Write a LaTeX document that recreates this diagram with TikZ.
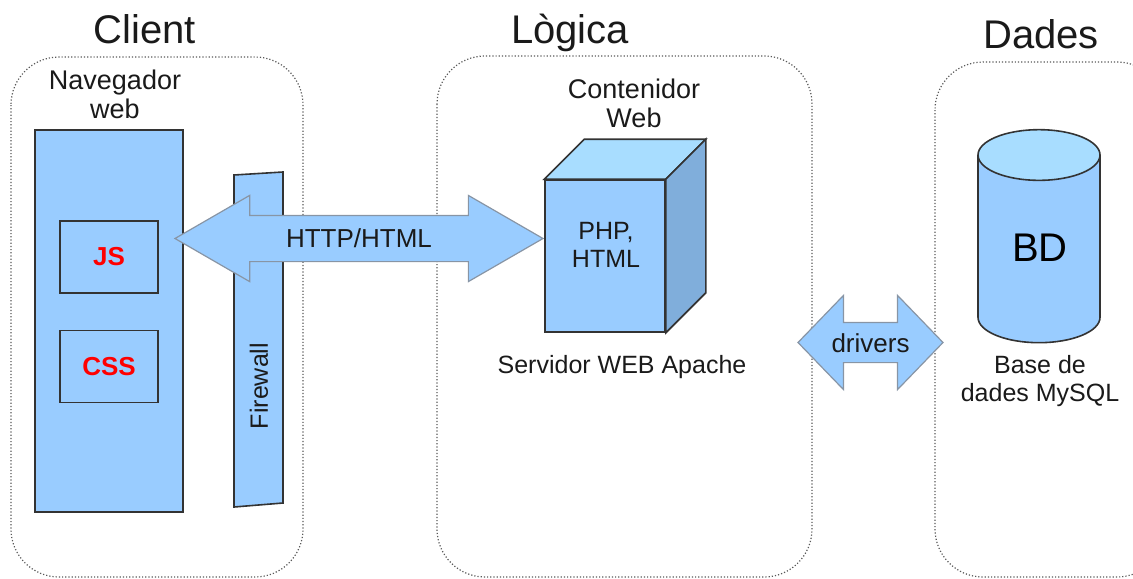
\documentclass[tikz,border=0pt]{standalone}
\usepackage{fontspec}
\setmainfont{Liberation Sans}
\usetikzlibrary{positioning,shapes.arrows,shapes.geometric}

\definecolor{boxblue}{HTML}{99CCFF}
\definecolor{topblue}{HTML}{A8DDFF}
\definecolor{sideblue}{HTML}{80AEDB}
\definecolor{arrowline}{HTML}{8895A5}
\definecolor{edgegray}{HTML}{333333}
\definecolor{textgray}{HTML}{1A1A1A}

\begin{document}
\begin{tikzpicture}[
  x=0.5pt, y=-0.5pt,
  zone/.style={draw=gray!70!black, densely dotted, line width=0.6pt,
               rounded corners=24pt},
  heading/.style={font=\fontsize{20}{24}\selectfont, text=textgray, anchor=base},
  txt/.style={font=\fontsize{12.5}{14}\selectfont, align=center, text=textgray},
  bigtxt/.style={txt, font=\fontsize{13.5}{14.5}\selectfont},
  panel/.style={draw=edgegray, fill=boxblue, line width=0.8pt},
  block/.style={panel, rectangle, inner sep=0pt},
  script/.style={block, minimum width=49pt, minimum height=36pt,
                 font=\bfseries\fontsize{13}{15}\selectfont, text=red},
  link/.style={double arrow, draw=arrowline, fill=boxblue, line width=0.6pt,
               text=textgray, font=\fontsize{13}{15}\selectfont,
               text depth=0pt, inner xsep=0pt},
]
  \useasboundingbox (0,0) rectangle (1133,578);
  \clip (0,0) rectangle (1133,578);

  % Tiers
  \draw[zone] (11,57) rectangle (303,577);
  \draw[zone] (437,56) rectangle (812,577);
  \draw[zone] (935,62) rectangle (1165,577);
  \node[heading] (client) at (145,43) {Client};
  \node[heading] (logica) at (570,43) {Lògica};
  \node[heading] (dades) at (1041,48) {Dades};

  % Client: browser
  \node[bigtxt] (navlabel) at (115,94) {Navegador\\web};
  \node[block, minimum width=74pt, minimum height=191pt] (browser) at (109,321) {};
  \node[script] (js) at (109,257) {JS};
  \node[script] (css) at (109,366.5) {CSS};

  % Firewall
  \coordinate (fw1) at (234,175);
  \coordinate (fw2) at (283,172);
  \coordinate (fw3) at (283,503);
  \coordinate (fw4) at (234,507);
  \draw[panel] (fw1) -- (fw2) -- (fw3) -- (fw4) -- cycle;
  \node[txt, rotate=90] (fwlabel) at (259,386) {Firewall};

  % Logica: web server cube
  \node[bigtxt] (contlabel) at (634,103) {Contenidor\\Web};
  \node[block, minimum width=60pt, minimum height=76pt] (php) at (605,256) {};
  \draw[panel, fill=topblue] (php.north west) -- ++(40,-40)
    -- ([shift={(40,-40)}]php.north east) -- (php.north east) -- cycle;
  \draw[panel, fill=sideblue] (php.north east) -- ++(40,-40)
    -- ([shift={(40,-40)}]php.south east) -- (php.south east) -- cycle;
  \node[txt] (phplabel) at (606,245) {PHP,\\HTML};
  \node[txt] (apache) at (622,367) {Servidor WEB Apache};

  % Dades: database
  \node[cylinder, shape border rotate=90, draw=edgegray, line width=0.8pt,
        cylinder uses custom fill, cylinder body fill=boxblue,
        cylinder end fill=topblue, minimum width=61pt, minimum height=106.5pt,
        aspect=3.8] (bd) at (1039,255) {};
  \node[font=\fontsize{20}{24}\selectfont, text=black] (bdlabel) at (1040,248) {BD};
  \node[txt] (mysql) at (1040,381) {Base de\\dades MySQL};

  % Links
  \node[link, minimum height=184pt, double arrow tip angle=60,
        double arrow head extend=10pt, text height=9pt, inner ysep=6.75pt]
    (http) at (359,238.5) {HTTP/HTML};
  \node[link, minimum height=72.5pt, double arrow tip angle=92,
        double arrow head extend=13.5pt, text height=9.5pt, inner ysep=5pt]
    (drivers) at (870.5,342.5) {drivers};
\end{tikzpicture}
\end{document}
